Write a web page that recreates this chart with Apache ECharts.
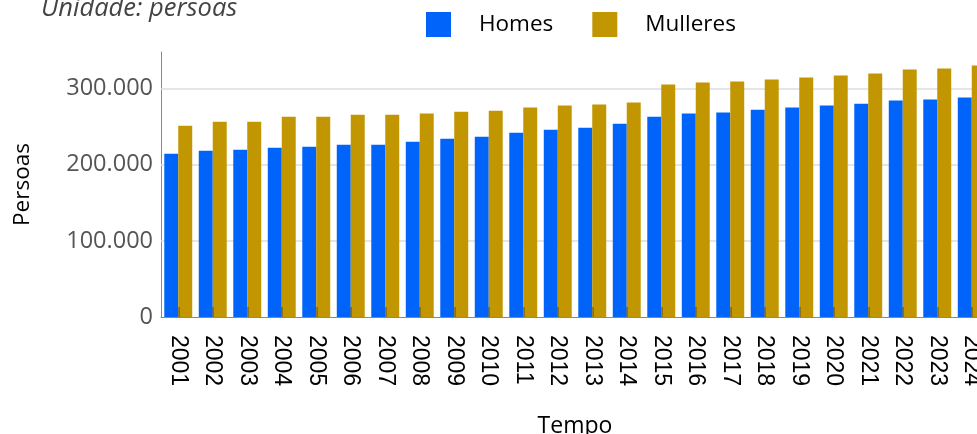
<!DOCTYPE html>
<html>
<head>
<meta charset="utf-8">
<script src="https://cdn.jsdelivr.net/npm/echarts@6/dist/echarts.min.js"></script>
<style>html,body{margin:0;padding:0;background:#fff;}#c{width:977px;height:434px;}</style>
</head>
<body>
<div id="c"></div>
<script>
const years = ['2001','2002','2003','2004','2005','2006','2007','2008','2009','2010','2011','2012','2013','2014','2015','2016','2017','2018','2019','2020','2021','2022','2023','2024'];
const homes = [214400,218300,219600,222300,223600,226200,226200,230200,234100,236800,242100,246000,248600,253900,263100,267100,268400,272300,275000,277600,280200,284200,285500,288100];
const mulleres = [251300,256500,256500,263100,263100,265700,265700,267100,269700,271000,275000,277600,278900,281600,305300,307900,309200,311900,314500,317100,319800,325000,326400,330300];
const seriesNames = ['Homes','Mulleres'];
const yTicks = [100000,200000,300000];

const fmt = v => String(v).replace(/\B(?=(\d{3})+(?!\d))/g, '.');

const chart = echarts.init(document.getElementById('c'), null, {renderer:'canvas'});
chart.setOption({
  animation: false,
  backgroundColor: '#fff',
  title: {
    text: 'Unidade: persoas',
    left: 41, top: -4, padding: 0,
    textStyle: {fontFamily: 'Open Sans', fontStyle: 'italic', fontWeight: 'normal', fontSize: 25.5, color: '#444'}
  },
  legend: {
    data: seriesNames,
    left: 426, top: 12, padding: 0,
    itemWidth: 25, itemHeight: 25, itemGap: 39,
    icon: 'rect',
    textStyle: {fontFamily: 'Open Sans', fontSize: 22.5, color: '#000', padding: [6,0,0,23]}
  },
  grid: {left: 161, right: -12, top: 52, bottom: 117, containLabel: false, outerBoundsMode: 'none'},
  xAxis: {
    type: 'category',
    data: years,
    z: 5,
    name: 'Tempo',
    nameLocation: 'middle',
    nameGap: 98,
    nameTextStyle: {fontFamily: 'Open Sans', fontSize: 23, color: '#000'},
    axisLine: {lineStyle: {color: '#888', width: 1}},
    axisTick: {show: true, inside: true, alignWithLabel: true, length: 10, lineStyle: {color: 'rgba(40,40,40,0.45)', width: 1.5}},
    axisLabel: {rotate: -90, margin: 18, fontFamily: 'Liberation Sans', fontSize: 23, color: '#000', interval: 0}
  },
  yAxis: {
    type: 'value',
    min: 0, max: 348000, interval: 100000,
    name: 'Persoas',
    nameLocation: 'middle',
    nameGap: 127,
    nameTextStyle: {fontFamily: 'Open Sans', fontSize: 22.5, color: '#000'},
    axisLine: {show: true, lineStyle: {color: '#888', width: 1}},
    axisTick: {show: false},
    splitLine: {show: false},
    axisLabel: {showMaxLabel: false, margin: 8, fontFamily: 'Open Sans', fontSize: 23.5, color: '#555', formatter: v => fmt(v)}
  },
  series: [
    {
      name: seriesNames[0], type: 'bar', data: homes, barGap: '0%', barCategoryGap: '19%',
      itemStyle: {color: '#0064FA'}, z: 2,
      markLine: {
        silent: true, symbol: 'none', label: {show: false}, z: 1,
        lineStyle: {color: '#dcdcdc', width: 1.5, type: 'solid'},
        data: yTicks.map(v => ({yAxis: v}))
      }
    },
    {
      name: seriesNames[1], type: 'bar', data: mulleres, barGap: '0%', barCategoryGap: '19%',
      itemStyle: {color: '#C19600'}, z: 2
    }
  ]
});
</script>
</body>
</html>
